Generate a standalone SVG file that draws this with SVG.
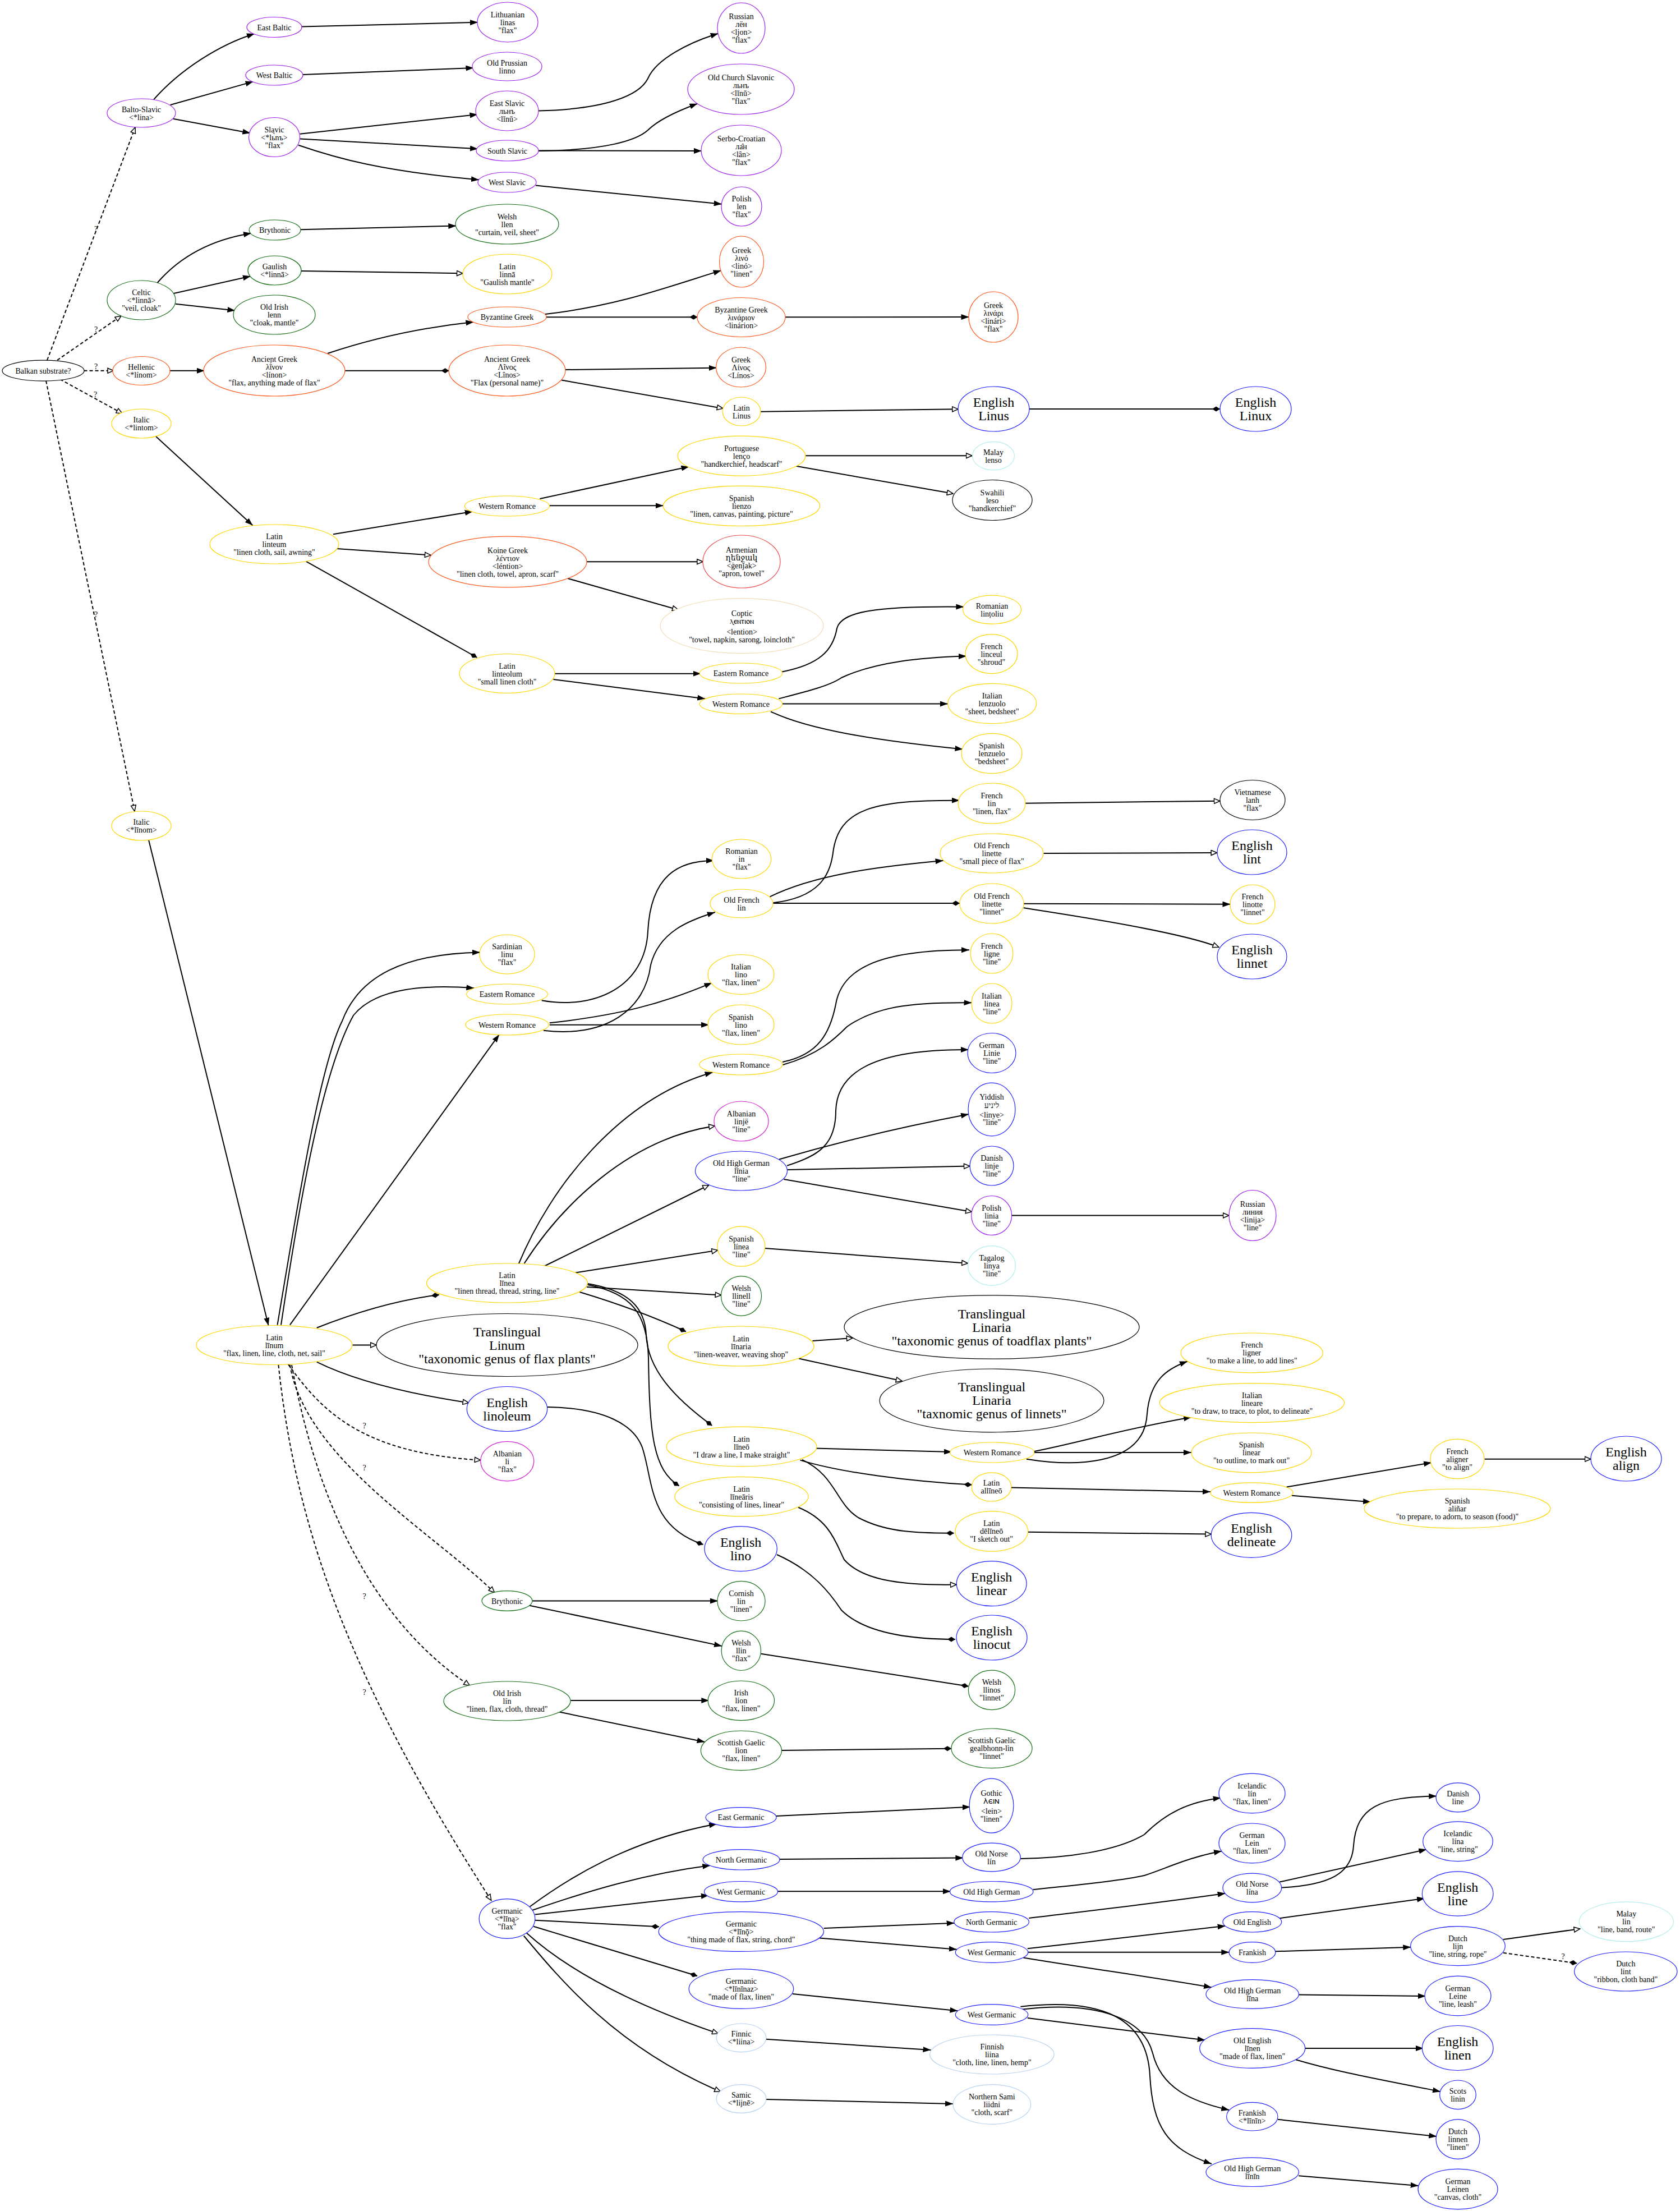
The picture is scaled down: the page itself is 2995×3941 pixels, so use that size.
<svg xmlns="http://www.w3.org/2000/svg" width="2995" height="3941" viewBox="0 0 2995 3941">
<style>
text{font-family:"Liberation Serif","DejaVu Serif","DejaVu Sans","Noto Sans",serif;font-size:14px;text-anchor:middle;fill:#000}
.B{font-size:24px}
ellipse{fill:#fff;stroke-width:1.2}
.p{stroke:#a020f0}.m{stroke:#d21fd2}.g{stroke:#167016}.o{stroke:#ff5a1e}.r{stroke:#ee4a4a}.w{stroke:#f2dcb5}.y{stroke:#ffd700}.b{stroke:#1f1fff}.c{stroke:#b4eeee}.l{stroke:#b8d3f0}.k{stroke:#000}
#edges path{fill:none;stroke:#000;stroke-width:2}
.A{marker-end:url(#a)}.H{marker-end:url(#h)}.D{marker-end:url(#d)}.S{stroke-dasharray:6 4}
</style>
<defs>
<marker id="a" viewBox="0 0 14 10" markerWidth="14" markerHeight="10" refX="14" refY="5" orient="auto" markerUnits="userSpaceOnUse"><path d="M0,0L14,5L0,10z" fill="#000"/></marker>
<marker id="h" viewBox="-1 -1 13 11" markerWidth="13" markerHeight="11" refX="10.5" refY="4.5" orient="auto" markerUnits="userSpaceOnUse"><path d="M0,0L10.5,4.5L0,9z" fill="#fff" stroke="#000" stroke-width="1.5"/></marker>
<marker id="d" viewBox="0 0 14 10" markerWidth="14" markerHeight="10" refX="14" refY="5" orient="auto" markerUnits="userSpaceOnUse"><path d="M0,5L7,0.5L14,5L7,9.5z" fill="#000"/></marker>
</defs>
<rect width="2995" height="3941" fill="#fff"/>
<g id="edges">
<path class="S H" d="M84,642 L241,227"/>
<path class="S H" d="M102,642 L216,563"/>
<path class="S H" d="M149.5,660.7 L202.5,660.7"/>
<path class="S H" d="M107,676 L218,737"/>
<path class="S H" d="M82,678.6 L240,1446"/>
<path class="A" d="M273,178.6 C320,125 390,80 454,60"/>
<path class="A" d="M303.6,187 L451.5,145.4"/>
<path class="A" d="M308.7,211.7 L446.4,237.2"/>
<path class="A" d="M538,47.5 L852,39.8"/>
<path class="A" d="M540,133 L844.4,121"/>
<path class="A" d="M534.7,238.8 L851.5,204"/>
<path class="A" d="M535,247.4 L852,265.3"/>
<path class="A" d="M532,258.7 C600,282 680,305 854,320.4"/>
<path class="A" d="M960,197.4 C1080,195 1140,170 1155,140 C1170,105 1230,75 1280.6,59.7"/>
<path class="A" d="M960,268.9 C1080,268 1135,250 1155,232 C1175,212 1210,197 1243.4,184.7"/>
<path class="A" d="M960,268.5 L1251,268.9"/>
<path class="A" d="M955,330.6 L1286.7,363.8"/>
<path class="A" d="M280.6,504 C310,470 360,430 448,415.8"/>
<path class="A" d="M309.7,523 L447,492.3"/>
<path class="A" d="M312.8,541.8 L419.4,553.6"/>
<path class="A" d="M535.7,409.2 L813.3,402.6"/>
<path class="H" d="M537,483 L825,487.2"/>
<path class="A" d="M303,660.7 L364.8,660.7"/>
<path class="A" d="M584,630 C650,608 740,585 844.4,574"/>
<path class="D" d="M615,660.7 L800.5,660.7"/>
<path class="A" d="M972,560 C1100,545 1180,515 1285.7,482"/>
<path class="D" d="M974,565.3 L1243.4,565.3"/>
<path class="A" d="M1400,565.3 L1727.5,565"/>
<path class="A" d="M1008,659 L1277.6,655.6"/>
<path class="H" d="M1001,677.6 L1289,728"/>
<path class="H" d="M1355.6,733.7 L1708.3,729.3"/>
<path class="D" d="M1835,729 L2175,729"/>
<path class="A" d="M278,778 L450.5,936.6"/>
<path class="A" d="M594,952.3 L842.8,911.7"/>
<path class="A" d="M962.4,888.9 L1228.5,831.7"/>
<path class="A" d="M979.7,901.3 L1182.5,901.3"/>
<path class="H" d="M1436,812.2 L1733,812.2"/>
<path class="H" d="M1419,830.8 L1699,879.8"/>
<path class="H" d="M600.7,978 L768,989.6"/>
<path class="H" d="M1045.7,1001.2 L1253.3,1001.2"/>
<path class="H" d="M1012,1031 L1209.3,1087"/>
<path class="D" d="M546,1000.8 L850.5,1172"/>
<path class="A" d="M989,1200.7 L1249.5,1200.7"/>
<path class="A" d="M986.4,1211 L1257.2,1245.4"/>
<path class="A" d="M1393,1197.8 C1460,1185 1485,1160 1492,1120 C1500,1090 1560,1080 1718.4,1081.7"/>
<path class="A" d="M1388.3,1245.4 C1440,1232 1480,1222 1500,1208 C1560,1180 1640,1172 1723,1169.6"/>
<path class="A" d="M1395,1254.5 L1689.7,1254.5"/>
<path class="A" d="M1374,1268.3 C1440,1300 1560,1320 1716.5,1335.4"/>
<path class="A" d="M265,1497 L478.6,2362.8"/>
<path class="A" d="M494.5,2361.7 C530,2150 570,1900 610,1820 C640,1740 720,1700 856,1697.4"/>
<path class="A" d="M501,2361.7 C540,2100 580,1900 630,1810 C670,1760 760,1755 845.3,1761.2"/>
<path class="A" d="M516.8,2361.7 L890,1843.9"/>
<path class="D" d="M564.7,2366.8 C620,2345 700,2318 782.8,2308"/>
<path class="H" d="M628.4,2397.5 L671.2,2397.5"/>
<path class="H" d="M564.7,2427.6 C620,2455 700,2480 835.7,2500.5"/>
<path class="S H" d="M513.6,2431.6 C570,2510 640,2590 856.8,2602.6"/>
<path class="S H" d="M516.8,2432.7 C545,2600 770,2730 881.6,2838.8"/>
<path class="S H" d="M520,2433 C560,2650 650,2880 837.6,3004.6"/>
<path class="S H" d="M496.4,2433 C530,2750 640,3020 875.8,3387.4"/>
<path class="A" d="M965.7,1783.3 C1060,1800 1150,1760 1155,1660 C1160,1560 1210,1534 1272.7,1534"/>
<path class="A" d="M969,1836.7 C1080,1850 1150,1800 1160,1720 C1175,1660 1230,1640 1274.8,1626"/>
<path class="A" d="M979.8,1823.3 C1100,1810 1180,1790 1269.4,1751.7"/>
<path class="A" d="M979.8,1826.7 L1264,1826.7"/>
<path class="A" d="M1378,1609.3 C1460,1600 1480,1560 1485,1520 C1495,1440 1560,1426 1710.8,1426.7"/>
<path class="A" d="M1372.5,1598.3 C1450,1560 1560,1545 1681.6,1534"/>
<path class="D" d="M1378,1610 L1710.8,1610"/>
<path class="H" d="M1828,1431.7 L2175,1427.7"/>
<path class="H" d="M1860.5,1521 L2169.6,1520"/>
<path class="A" d="M1824.7,1610.7 L2193.5,1611.7"/>
<path class="H" d="M1824.7,1618.3 C1900,1630 2100,1660 2172.8,1688.3"/>
<path class="A" d="M925,2252 C980,2120 1100,1960 1270.7,1911.2"/>
<path class="H" d="M934.6,2252 C1000,2150 1120,2030 1274.4,2007"/>
<path class="H" d="M971,2256.5 L1263.5,2112.5"/>
<path class="H" d="M1026,2268.4 L1279.5,2228.6"/>
<path class="H" d="M1046,2294 L1285.8,2308.5"/>
<path class="D" d="M1033.4,2303 C1090,2320 1150,2340 1222.8,2373.5"/>
<path class="D" d="M1047.5,2288 C1120,2300 1150,2330 1152,2380 C1155,2440 1200,2490 1269.4,2541"/>
<path class="D" d="M1047.5,2290 C1125,2305 1154,2340 1156,2420 C1158,2560 1165,2620 1210.7,2648.5"/>
<path class="H" d="M1448.5,2390 L1520,2385"/>
<path class="H" d="M1424,2421.4 L1608,2461.6"/>
<path class="A" d="M1453.5,2581.5 L1697,2588"/>
<path class="D" d="M1426.5,2602.6 C1500,2625 1620,2640 1732.4,2646.6"/>
<path class="D" d="M1430,2601.8 C1490,2630 1490,2680 1530,2705 C1580,2732 1640,2733 1700.6,2732.7"/>
<path class="A" d="M1830,2600.7 C1900,2612 2040,2620 2045,2520 C2050,2460 2080,2440 2117,2426.5"/>
<path class="A" d="M1844,2587 C1930,2570 1990,2550 2124,2526"/>
<path class="A" d="M1844,2589 L2124,2589"/>
<path class="A" d="M1803,2651.6 L2158,2659"/>
<path class="A" d="M2293.6,2650.4 L2552,2607"/>
<path class="A" d="M2303,2665.7 L2444,2677.2"/>
<path class="H" d="M2646.5,2600.7 L2836,2600.7"/>
<path class="H" d="M1832,2730.8 L2159.5,2734.6"/>
<path class="H" d="M1423,2686.8 C1480,2710 1490,2750 1505,2780 C1540,2820 1620,2826 1705,2824.6"/>
<path class="D" d="M1385,2771 C1450,2800 1480,2840 1500,2870 C1540,2910 1620,2922 1703,2922"/>
<path class="D" d="M976,2508 C1080,2510 1130,2540 1145,2580 C1165,2640 1155,2720 1253.5,2753"/>
<path class="A" d="M949.2,2853.6 L1280,2853.6"/>
<path class="A" d="M944,2861.7 L1287,2934"/>
<path class="D" d="M1356.6,2947.7 L1726.5,3005.7"/>
<path class="A" d="M1017.5,3031 L1264.3,3031"/>
<path class="A" d="M997,3051.5 L1256.6,3105"/>
<path class="D" d="M1393.4,3120 L1696,3116.7"/>
<path class="A" d="M944.6,3398.5 C1010,3350 1120,3280 1278,3251"/>
<path class="A" d="M948.8,3405 C1050,3370 1150,3340 1266.3,3325"/>
<path class="A" d="M953.7,3412.6 L1263.8,3378.3"/>
<path class="D" d="M953.7,3422.7 L1175,3434.3"/>
<path class="D" d="M951.2,3433.8 L1243,3522"/>
<path class="H" d="M938.8,3445.5 C1010,3510 1120,3570 1280.4,3624.7"/>
<path class="H" d="M933.8,3450.5 C1000,3530 1100,3650 1284.6,3728.3"/>
<path class="A" d="M1384,3237 L1729.8,3220.7"/>
<path class="A" d="M1390,3314 L1717.4,3311.6"/>
<path class="A" d="M1386.6,3371.2 L1695,3371.2"/>
<path class="A" d="M1468.7,3436.9 L1701.6,3427.8"/>
<path class="A" d="M1461,3454.5 L1705.8,3474.7"/>
<path class="A" d="M1413,3554 L1707.5,3584.3"/>
<path class="A" d="M1365.8,3634.8 L1659.4,3654"/>
<path class="A" d="M1365.8,3742 L1699,3750"/>
<path class="A" d="M1819.4,3313 C1900,3312 1990,3300 2040,3270 C2080,3230 2120,3212 2176.7,3204.5"/>
<path class="A" d="M1841.8,3368 C1920,3360 2000,3352 2040,3343 C2080,3330 2120,3310 2178,3299.5"/>
<path class="A" d="M1834.3,3419 C1950,3405 2080,3390 2184.7,3374.7"/>
<path class="A" d="M1831.8,3473.2 C1950,3460 2080,3445 2184.7,3432.8"/>
<path class="A" d="M1832.7,3479.8 L2191.3,3479.8"/>
<path class="A" d="M1824.4,3489.4 C1950,3510 2060,3525 2160,3542.4"/>
<path class="A" d="M1831.8,3597 L2148.7,3636.4"/>
<path class="A" d="M1821,3581.8 C1960,3565 2040,3600 2055,3660 C2070,3720 2120,3745 2191.3,3761"/>
<path class="A" d="M1819.4,3576.8 C1970,3560 2045,3600 2050,3700 C2055,3790 2080,3830 2160,3857"/>
<path class="A" d="M2284.7,3364.6 C2370,3360 2410,3340 2413,3290 C2418,3220 2460,3203 2561.3,3201.5"/>
<path class="A" d="M2281.3,3354.5 L2543.3,3296.5"/>
<path class="A" d="M2281.3,3419.2 L2540,3383.8"/>
<path class="A" d="M2274,3478.3 L2515.3,3470.7"/>
<path class="A" d="M2315.3,3555.6 L2542,3558"/>
<path class="A" d="M2326.7,3651 L2538,3651"/>
<path class="A" d="M2310,3671.2 C2390,3695 2480,3710 2568,3728.3"/>
<path class="A" d="M2278,3777.8 L2561.3,3808"/>
<path class="A" d="M2315.3,3878.3 L2528.7,3896"/>
<path class="H" d="M2680,3457 L2816.7,3438"/>
<path class="S D" d="M2680,3480.8 L2811.3,3499.5"/>
<path class="A" d="M1403,2077.7 C1460,2060 1490,2040 1490,1980 C1492,1910 1560,1870 1727,1871"/>
<path class="A" d="M1389,2066.5 C1480,2040 1600,2010 1727,1986"/>
<path class="H" d="M1403.8,2085 L1729,2078.6"/>
<path class="H" d="M1397.4,2102 L1732.3,2160"/>
<path class="H" d="M1803.7,2166.5 L2191,2166.5"/>
<path class="H" d="M1363.6,2225 L1725.3,2251.8"/>
<path class="A" d="M1395,1893 C1460,1880 1480,1840 1490,1790 C1500,1730 1560,1693 1728,1693.3"/>
<path class="A" d="M1395.5,1898 C1460,1880 1490,1850 1510,1830 C1560,1795 1620,1786 1732.5,1787.3"/>
<text x="171" y="413">?</text>
<text x="171" y="592">?</text>
<text x="171" y="658">?</text>
<text x="170" y="708">?</text>
<text x="171" y="1100">?</text>
<text x="649.5" y="2546">?</text>
<text x="649.5" y="2621">?</text>
<text x="649.5" y="2850">?</text>
<text x="649.5" y="3021">?</text>
<text x="2786.7" y="3492">?</text>
</g>
<g id="n_balkan"><ellipse class="k" cx="77" cy="660.7" rx="73" ry="18.5"/><text x="77" y="665.7">Balkan substrate?</text></g>
<g id="n_baltoslavic"><ellipse class="p" cx="252" cy="201.5" rx="61" ry="25.5"/><text x="252" y="199.5">Balto-Slavic<tspan x="252" dy="14">&lt;*lina&gt;</tspan></text></g>
<g id="n_eastbaltic"><ellipse class="p" cx="489" cy="48.5" rx="49" ry="18"/><text x="489" y="53.5">East Baltic</text></g>
<g id="n_westbaltic"><ellipse class="p" cx="489" cy="134" rx="51" ry="18"/><text x="489" y="139">West Baltic</text></g>
<g id="n_slavic"><ellipse class="p" cx="489" cy="244.5" rx="45.5" ry="35"/><text x="489" y="235.5">Slavic<tspan x="489" dy="14">&lt;*lь̀nъ&gt;</tspan><tspan x="489" dy="14">"flax"</tspan></text></g>
<g id="n_lithuanian"><ellipse class="p" cx="905" cy="39.5" rx="54" ry="35.5"/><text x="905" y="30.5">Lithuanian<tspan x="905" dy="14">lìnas</tspan><tspan x="905" dy="14">"flax"</tspan></text></g>
<g id="n_oldprussian"><ellipse class="p" cx="904" cy="118.5" rx="62" ry="25.5"/><text x="904" y="116.5">Old Prussian<tspan x="904" dy="14">linno</tspan></text></g>
<g id="n_eastslavic"><ellipse class="p" cx="904" cy="197.5" rx="56" ry="35.5"/><text x="904" y="188.5">East Slavic<tspan x="904" dy="14">льнъ</tspan><tspan x="904" dy="14">&lt;lĭnŭ&gt;</tspan></text></g>
<g id="n_southslavic"><ellipse class="p" cx="904.5" cy="268.5" rx="55.5" ry="18.5"/><text x="904.5" y="273.5">South Slavic</text></g>
<g id="n_westslavic"><ellipse class="p" cx="904" cy="325" rx="52" ry="18"/><text x="904" y="330">West Slavic</text></g>
<g id="n_russian1"><ellipse class="p" cx="1321.5" cy="50" rx="42.5" ry="45"/><text x="1321.5" y="34">Russian<tspan x="1321.5" dy="14">лён</tspan><tspan x="1321.5" dy="14">&lt;ljon&gt;</tspan><tspan x="1321.5" dy="14">"flax"</tspan></text></g>
<g id="n_ocs"><ellipse class="p" cx="1321" cy="159" rx="95" ry="45"/><text x="1321" y="143">Old Church Slavonic<tspan x="1321" dy="14">льнъ</tspan><tspan x="1321" dy="14">&lt;lĭnŭ&gt;</tspan><tspan x="1321" dy="14">"flax"</tspan></text></g>
<g id="n_serbocroatian"><ellipse class="p" cx="1321.5" cy="268" rx="71.5" ry="45"/><text x="1321.5" y="252">Serbo-Croatian<tspan x="1321.5" dy="14">ла̑н</tspan><tspan x="1321.5" dy="14">&lt;lȃn&gt;</tspan><tspan x="1321.5" dy="14">"flax"</tspan></text></g>
<g id="n_polish1"><ellipse class="p" cx="1322" cy="368" rx="36" ry="35"/><text x="1322" y="359">Polish<tspan x="1322" dy="14">len</tspan><tspan x="1322" dy="14">"flax"</tspan></text></g>
<g id="n_brythonic1"><ellipse class="g" cx="490" cy="410" rx="46" ry="18"/><text x="490" y="415">Brythonic</text></g>
<g id="n_gaulish"><ellipse class="g" cx="489.5" cy="482" rx="47.5" ry="26"/><text x="489.5" y="480">Gaulish<tspan x="489.5" dy="14">&lt;*linnā&gt;</tspan></text></g>
<g id="n_oldirish1"><ellipse class="g" cx="489" cy="561" rx="73" ry="35"/><text x="489" y="552">Old Irish<tspan x="489" dy="14">lenn</tspan><tspan x="489" dy="14">"cloak, mantle"</tspan></text></g>
<g id="n_celtic"><ellipse class="g" cx="252" cy="535" rx="61" ry="35"/><text x="252" y="526">Celtic<tspan x="252" dy="14">&lt;*linnā&gt;</tspan><tspan x="252" dy="14">"veil, cloak"</tspan></text></g>
<g id="n_welsh_llen"><ellipse class="g" cx="904" cy="399.5" rx="92" ry="35.5"/><text x="904" y="390.5">Welsh<tspan x="904" dy="14">llen</tspan><tspan x="904" dy="14">"curtain, veil, sheet"</tspan></text></g>
<g id="n_latin_linna"><ellipse class="y" cx="904.5" cy="488.5" rx="79.5" ry="35.5"/><text x="904.5" y="479.5">Latin<tspan x="904.5" dy="14">linnā</tspan><tspan x="904.5" dy="14">"Gaulish mantle"</tspan></text></g>
<g id="n_hellenic"><ellipse class="o" cx="252" cy="661" rx="51" ry="25.5"/><text x="252" y="659">Hellenic<tspan x="252" dy="14">&lt;*línom&gt;</tspan></text></g>
<g id="n_ancientgreek1"><ellipse class="o" cx="489" cy="660.5" rx="126" ry="45.5"/><text x="489" y="644.5">Ancient Greek<tspan x="489" dy="14">λῐ́νον</tspan><tspan x="489" dy="14">&lt;línon&gt;</tspan><tspan x="489" dy="14">"flax, anything made of flax"</tspan></text></g>
<g id="n_byzantine1"><ellipse class="o" cx="904" cy="565" rx="70" ry="18"/><text x="904" y="570">Byzantine Greek</text></g>
<g id="n_ancientgreek2"><ellipse class="o" cx="904" cy="660.5" rx="104" ry="45.5"/><text x="904" y="644.5">Ancient Greek<tspan x="904" dy="14">Λῖνος</tspan><tspan x="904" dy="14">&lt;Lînos&gt;</tspan><tspan x="904" dy="14">"Flax (personal name)"</tspan></text></g>
<g id="n_greek_lino"><ellipse class="o" cx="1322" cy="466.5" rx="39.5" ry="45.5"/><text x="1322" y="450.5">Greek<tspan x="1322" dy="14">λινό</tspan><tspan x="1322" dy="14">&lt;linó&gt;</tspan><tspan x="1322" dy="14">"linen"</tspan></text></g>
<g id="n_byzantine2"><ellipse class="o" cx="1321.5" cy="565.5" rx="78.5" ry="35"/><text x="1321.5" y="556.5">Byzantine Greek<tspan x="1321.5" dy="14">λινάριον</tspan><tspan x="1321.5" dy="14">&lt;linárion&gt;</tspan></text></g>
<g id="n_greek_linari"><ellipse class="o" cx="1771" cy="565" rx="44" ry="45"/><text x="1771" y="549">Greek<tspan x="1771" dy="14">λινάρι</tspan><tspan x="1771" dy="14">&lt;linári&gt;</tspan><tspan x="1771" dy="14">"flax"</tspan></text></g>
<g id="n_greek_linos"><ellipse class="o" cx="1321" cy="654.5" rx="44.5" ry="35.5"/><text x="1321" y="645.5">Greek<tspan x="1321" dy="14">Λίνος</tspan><tspan x="1321" dy="14">&lt;Línos&gt;</tspan></text></g>
<g id="n_latin_linus"><ellipse class="y" cx="1322" cy="733.5" rx="34" ry="25.5"/><text x="1322" y="731.5">Latin<tspan x="1322" dy="14">Linus</tspan></text></g>
<g id="n_english_linus"><ellipse class="b" cx="1771.5" cy="729" rx="63.5" ry="40"/><text class="B" x="1771.5" y="725">English<tspan x="1771.5" dy="24">Linus</tspan></text></g>
<g id="n_english_linux"><ellipse class="b" cx="2238.5" cy="729" rx="63.5" ry="40"/><text class="B" x="2238.5" y="725">English<tspan x="2238.5" dy="24">Linux</tspan></text></g>
<g id="n_italic1"><ellipse class="y" cx="252" cy="755" rx="53" ry="26"/><text x="252" y="753">Italic<tspan x="252" dy="14">&lt;*lintom&gt;</tspan></text></g>
<g id="n_latin_linteum"><ellipse class="y" cx="489" cy="970" rx="115" ry="35"/><text x="489" y="961">Latin<tspan x="489" dy="14">linteum</tspan><tspan x="489" dy="14">"linen cloth, sail, awning"</tspan></text></g>
<g id="n_wr1"><ellipse class="y" cx="904" cy="902" rx="75.6" ry="18"/><text x="904" y="907">Western Romance</text></g>
<g id="n_portuguese"><ellipse class="y" cx="1322" cy="812.6" rx="114" ry="35.5"/><text x="1322" y="803.6">Portuguese<tspan x="1322" dy="14">lenço</tspan><tspan x="1322" dy="14">"handkerchief, headscarf"</tspan></text></g>
<g id="n_malay1"><ellipse class="c" cx="1771" cy="812.6" rx="37.5" ry="25.3"/><text x="1771" y="810.6">Malay<tspan x="1771" dy="14">lenso</tspan></text></g>
<g id="n_swahili"><ellipse class="k" cx="1769" cy="891.5" rx="71" ry="36"/><text x="1769" y="882.5">Swahili<tspan x="1769" dy="14">leso</tspan><tspan x="1769" dy="14">"handkerchief"</tspan></text></g>
<g id="n_spanish_lienzo"><ellipse class="y" cx="1322" cy="901.8" rx="139.7" ry="35.7"/><text x="1322" y="892.8">Spanish<tspan x="1322" dy="14">lienzo</tspan><tspan x="1322" dy="14">"linen, canvas, painting, picture"</tspan></text></g>
<g id="n_koine"><ellipse class="o" cx="905" cy="1001.5" rx="141" ry="45.4"/><text x="905" y="985.5">Koine Greek<tspan x="905" dy="14">λέντιον</tspan><tspan x="905" dy="14">&lt;léntion&gt;</tspan><tspan x="905" dy="14">"linen cloth, towel, apron, scarf"</tspan></text></g>
<g id="n_armenian"><ellipse class="r" cx="1322" cy="1001" rx="69" ry="47"/><text x="1322" y="985">Armenian<tspan x="1322" dy="14">ղենջակ</tspan><tspan x="1322" dy="14">&lt;ġenǰak&gt;</tspan><tspan x="1322" dy="14">"apron, towel"</tspan></text></g>
<g id="n_coptic"><ellipse class="w" cx="1322.5" cy="1115.6" rx="145.5" ry="49"/><text x="1322.5" y="1097.5">Coptic<tspan x="1322.5" dy="14">ⲗⲉⲛⲧⲓⲟⲛ</tspan><tspan x="1322.5" dy="19">&lt;lention&gt;</tspan><tspan x="1322.5" dy="14">"towel, napkin, sarong, loincloth"</tspan></text></g>
<g id="n_latin_linteolum"><ellipse class="y" cx="904" cy="1200.5" rx="85" ry="35"/><text x="904" y="1191.5">Latin<tspan x="904" dy="14">linteolum</tspan><tspan x="904" dy="14">"small linen cloth"</tspan></text></g>
<g id="n_er1"><ellipse class="y" cx="1321" cy="1200" rx="73.7" ry="18"/><text x="1321" y="1205">Eastern Romance</text></g>
<g id="n_wr2"><ellipse class="y" cx="1321" cy="1254.7" rx="73.7" ry="17.7"/><text x="1321" y="1259.7">Western Romance</text></g>
<g id="n_romanian1"><ellipse class="y" cx="1768.5" cy="1086.6" rx="52" ry="25.5"/><text x="1768.5" y="1084.6">Romanian<tspan x="1768.5" dy="14">lințoliu</tspan></text></g>
<g id="n_french_linceul"><ellipse class="y" cx="1767.5" cy="1165.6" rx="46.5" ry="35"/><text x="1767.5" y="1156.6">French<tspan x="1767.5" dy="14">linceul</tspan><tspan x="1767.5" dy="14">"shroud"</tspan></text></g>
<g id="n_italian_lenzuolo"><ellipse class="y" cx="1768.7" cy="1254" rx="79" ry="35.6"/><text x="1768.7" y="1245">Italian<tspan x="1768.7" dy="14">lenzuolo</tspan><tspan x="1768.7" dy="14">"sheet, bedsheet"</tspan></text></g>
<g id="n_spanish_lenzuelo"><ellipse class="y" cx="1768" cy="1343" rx="54" ry="35.6"/><text x="1768" y="1334">Spanish<tspan x="1768" dy="14">lenzuelo</tspan><tspan x="1768" dy="14">"bedsheet"</tspan></text></g>
<g id="n_italic2"><ellipse class="y" cx="252" cy="1472" rx="53" ry="26"/><text x="252" y="1470">Italic<tspan x="252" dy="14">&lt;*līnom&gt;</tspan></text></g>
<g id="n_latin_linum"><ellipse class="y" cx="489" cy="2397.5" rx="139" ry="35"/><text x="489" y="2388.5">Latin<tspan x="489" dy="14">līnum</tspan><tspan x="489" dy="14">"flax, linen, line, cloth, net, sail"</tspan></text></g>
<g id="n_trans_linum"><ellipse class="k" cx="904" cy="2397.5" rx="233" ry="56"/><text class="B" x="904" y="2381.5">Translingual<tspan x="904" dy="24">Linum</tspan><tspan x="904" dy="24">"taxonomic genus of flax plants"</tspan></text></g>
<g id="n_english_linoleum"><ellipse class="b" cx="904" cy="2511.5" rx="71.7" ry="40"/><text class="B" x="904" y="2507.5">English<tspan x="904" dy="24">linoleum</tspan></text></g>
<g id="n_albanian_li"><ellipse class="m" cx="904.3" cy="2604.6" rx="47.5" ry="35.2"/><text x="904.3" y="2595.6">Albanian<tspan x="904.3" dy="14">li</tspan><tspan x="904.3" dy="14">"flax"</tspan></text></g>
<g id="n_brythonic2"><ellipse class="g" cx="904" cy="2853.5" rx="45" ry="17.9"/><text x="904" y="2858.5">Brythonic</text></g>
<g id="n_oldirish2"><ellipse class="g" cx="904" cy="3032" rx="113" ry="35"/><text x="904" y="3023">Old Irish<tspan x="904" dy="14">lín</tspan><tspan x="904" dy="14">"linen, flax, cloth, thread"</tspan></text></g>
<g id="n_germanic1"><ellipse class="b" cx="904" cy="3420" rx="49.8" ry="35.4"/><text x="904" y="3411">Germanic<tspan x="904" dy="14">&lt;*līną&gt;</tspan><tspan x="904" dy="14">"flax"</tspan></text></g>
<g id="n_sardinian"><ellipse class="y" cx="904" cy="1701" rx="49" ry="35"/><text x="904" y="1692">Sardinian<tspan x="904" dy="14">linu</tspan><tspan x="904" dy="14">"flax"</tspan></text></g>
<g id="n_er2"><ellipse class="y" cx="904" cy="1772" rx="72.4" ry="18"/><text x="904" y="1777">Eastern Romance</text></g>
<g id="n_wr3"><ellipse class="y" cx="904" cy="1826.5" rx="74" ry="18.5"/><text x="904" y="1831.5">Western Romance</text></g>
<g id="n_romanian_in"><ellipse class="y" cx="1322" cy="1531" rx="52.6" ry="35"/><text x="1322" y="1522">Romanian<tspan x="1322" dy="14">in</tspan><tspan x="1322" dy="14">"flax"</tspan></text></g>
<g id="n_oldfrench_lin"><ellipse class="y" cx="1322" cy="1610.5" rx="56" ry="25.5"/><text x="1322" y="1608.5">Old French<tspan x="1322" dy="14">lin</tspan></text></g>
<g id="n_italian_lino"><ellipse class="y" cx="1321" cy="1737" rx="59" ry="35.5"/><text x="1321" y="1728">Italian<tspan x="1321" dy="14">lino</tspan><tspan x="1321" dy="14">"flax, linen"</tspan></text></g>
<g id="n_spanish_lino"><ellipse class="y" cx="1321" cy="1826.5" rx="59" ry="35.5"/><text x="1321" y="1817.5">Spanish<tspan x="1321" dy="14">lino</tspan><tspan x="1321" dy="14">"flax, linen"</tspan></text></g>
<g id="n_french_lin"><ellipse class="y" cx="1768" cy="1432" rx="60" ry="36"/><text x="1768" y="1423">French<tspan x="1768" dy="14">lin</tspan><tspan x="1768" dy="14">"linen, flax"</tspan></text></g>
<g id="n_oldfrench_linette1"><ellipse class="y" cx="1768" cy="1521" rx="92" ry="35"/><text x="1768" y="1512">Old French<tspan x="1768" dy="14">linette</tspan><tspan x="1768" dy="14">"small piece of flax"</tspan></text></g>
<g id="n_oldfrench_linette2"><ellipse class="y" cx="1768" cy="1610.5" rx="57" ry="35.5"/><text x="1768" y="1601.5">Old French<tspan x="1768" dy="14">linette</tspan><tspan x="1768" dy="14">"linnet"</tspan></text></g>
<g id="n_vietnamese"><ellipse class="k" cx="2233" cy="1426" rx="58" ry="35.5"/><text x="2233" y="1417">Vietnamese<tspan x="2233" dy="14">lanh</tspan><tspan x="2233" dy="14">"flax"</tspan></text></g>
<g id="n_english_lint"><ellipse class="b" cx="2232" cy="1519" rx="62" ry="40"/><text class="B" x="2232" y="1515">English<tspan x="2232" dy="24">lint</tspan></text></g>
<g id="n_french_linotte"><ellipse class="y" cx="2233" cy="1612" rx="40" ry="35"/><text x="2233" y="1603">French<tspan x="2233" dy="14">linotte</tspan><tspan x="2233" dy="14">"linnet"</tspan></text></g>
<g id="n_english_linnet"><ellipse class="b" cx="2232" cy="1705" rx="62" ry="40"/><text class="B" x="2232" y="1701">English<tspan x="2232" dy="24">linnet</tspan></text></g>
<g id="n_latin_linea"><ellipse class="y" cx="904" cy="2287" rx="143.5" ry="35"/><text x="904" y="2278">Latin<tspan x="904" dy="14">līnea</tspan><tspan x="904" dy="14">"linen thread, thread, string, line"</tspan></text></g>
<g id="n_wr4"><ellipse class="y" cx="1321" cy="1897.5" rx="74" ry="18.5"/><text x="1321" y="1902.5">Western Romance</text></g>
<g id="n_french_ligne"><ellipse class="y" cx="1768" cy="1699.5" rx="38" ry="35.5"/><text x="1768" y="1690.5">French<tspan x="1768" dy="14">ligne</tspan><tspan x="1768" dy="14">"line"</tspan></text></g>
<g id="n_italian_linea"><ellipse class="y" cx="1768" cy="1788.5" rx="36" ry="35.5"/><text x="1768" y="1779.5">Italian<tspan x="1768" dy="14">linea</tspan><tspan x="1768" dy="14">"line"</tspan></text></g>
<g id="n_albanian_linje"><ellipse class="m" cx="1321.5" cy="1998.5" rx="48.5" ry="35.5"/><text x="1321.5" y="1989.5">Albanian<tspan x="1321.5" dy="14">linjë</tspan><tspan x="1321.5" dy="14">"line"</tspan></text></g>
<g id="n_ohg_linia"><ellipse class="b" cx="1321.5" cy="2087" rx="82" ry="35"/><text x="1321.5" y="2078">Old High German<tspan x="1321.5" dy="14">līnia</tspan><tspan x="1321.5" dy="14">"line"</tspan></text></g>
<g id="n_german_linie"><ellipse class="b" cx="1768" cy="1877" rx="43" ry="35.5"/><text x="1768" y="1868">German<tspan x="1768" dy="14">Linie</tspan><tspan x="1768" dy="14">"line"</tspan></text></g>
<g id="n_yiddish"><ellipse class="b" cx="1768" cy="1977.5" rx="42" ry="47.3"/><text x="1768" y="1960.4">Yiddish<tspan x="1768" dy="14.2">ליניע</tspan><tspan x="1768" dy="17">&lt;linye&gt;</tspan><tspan x="1768" dy="13.8">"line"</tspan></text></g>
<g id="n_danish_linje"><ellipse class="b" cx="1768" cy="2078" rx="39" ry="35"/><text x="1768" y="2069">Danish<tspan x="1768" dy="14">linje</tspan><tspan x="1768" dy="14">"line"</tspan></text></g>
<g id="n_polish_linia"><ellipse class="p" cx="1767.7" cy="2166.5" rx="36" ry="35"/><text x="1767.7" y="2157.5">Polish<tspan x="1767.7" dy="14">linia</tspan><tspan x="1767.7" dy="14">"line"</tspan></text></g>
<g id="n_russian_liniya"><ellipse class="p" cx="2233" cy="2166.5" rx="42" ry="45"/><text x="2233" y="2150.5">Russian<tspan x="2233" dy="14">линия</tspan><tspan x="2233" dy="14">&lt;linija&gt;</tspan><tspan x="2233" dy="14">"line"</tspan></text></g>
<g id="n_spanish_linea"><ellipse class="y" cx="1321.5" cy="2221.5" rx="42.5" ry="35.7"/><text x="1321.5" y="2212.5">Spanish<tspan x="1321.5" dy="14">línea</tspan><tspan x="1321.5" dy="14">"line"</tspan></text></g>
<g id="n_tagalog"><ellipse class="c" cx="1768" cy="2256" rx="42.5" ry="35.3"/><text x="1768" y="2247">Tagalog<tspan x="1768" dy="14">linya</tspan><tspan x="1768" dy="14">"line"</tspan></text></g>
<g id="n_welsh_llinell"><ellipse class="g" cx="1321.5" cy="2310" rx="36" ry="35.3"/><text x="1321.5" y="2301">Welsh<tspan x="1321.5" dy="14">llinell</tspan><tspan x="1321.5" dy="14">"line"</tspan></text></g>
<g id="n_latin_linaria"><ellipse class="y" cx="1321" cy="2399.5" rx="130" ry="35.5"/><text x="1321" y="2390.5">Latin<tspan x="1321" dy="14">līnaria</tspan><tspan x="1321" dy="14">"linen-weaver, weaving shop"</tspan></text></g>
<g id="n_trans_linaria1"><ellipse class="k" cx="1768" cy="2365.5" rx="263" ry="56.7"/><text class="B" x="1768" y="2349.5">Translingual<tspan x="1768" dy="24">Linaria</tspan><tspan x="1768" dy="24">"taxonomic genus of toadflax plants"</tspan></text></g>
<g id="n_trans_linaria2"><ellipse class="k" cx="1768" cy="2496.4" rx="200" ry="56.4"/><text class="B" x="1768" y="2480.4">Translingual<tspan x="1768" dy="24">Linaria</tspan><tspan x="1768" dy="24">"taxnomic genus of linnets"</tspan></text></g>
<g id="n_latin_lineo"><ellipse class="y" cx="1322" cy="2578.5" rx="134" ry="35.4"/><text x="1322" y="2569.5">Latin<tspan x="1322" dy="14">līneō</tspan><tspan x="1322" dy="14">"I draw a line, I make straight"</tspan></text></g>
<g id="n_latin_linearis"><ellipse class="y" cx="1322" cy="2667.6" rx="119" ry="35.2"/><text x="1322" y="2658.6">Latin<tspan x="1322" dy="14">līneāris</tspan><tspan x="1322" dy="14">"consisting of lines, linear"</tspan></text></g>
<g id="n_english_lino"><ellipse class="b" cx="1320.6" cy="2760.6" rx="64.7" ry="40"/><text class="B" x="1320.6" y="2756.6">English<tspan x="1320.6" dy="24">lino</tspan></text></g>
<g id="n_wr5"><ellipse class="y" cx="1768.8" cy="2589" rx="75" ry="18"/><text x="1768.8" y="2594">Western Romance</text></g>
<g id="n_latin_allineo"><ellipse class="y" cx="1767.5" cy="2650.4" rx="35.3" ry="25.6"/><text x="1767.5" y="2648.4">Latin<tspan x="1767.5" dy="14">allīneō</tspan></text></g>
<g id="n_latin_delineo"><ellipse class="y" cx="1767.7" cy="2729.4" rx="64.7" ry="35.8"/><text x="1767.7" y="2720.4">Latin<tspan x="1767.7" dy="14">dēlīneō</tspan><tspan x="1767.7" dy="14">"I sketch out"</tspan></text></g>
<g id="n_english_linear"><ellipse class="b" cx="1767.7" cy="2822.7" rx="62.4" ry="40"/><text class="B" x="1767.7" y="2818.7">English<tspan x="1767.7" dy="24">linear</tspan></text></g>
<g id="n_english_linocut"><ellipse class="b" cx="1768" cy="2919" rx="63" ry="40"/><text class="B" x="1768" y="2915">English<tspan x="1768" dy="24">linocut</tspan></text></g>
<g id="n_french_ligner"><ellipse class="y" cx="2231.7" cy="2411.4" rx="126.5" ry="35.4"/><text x="2231.7" y="2402.4">French<tspan x="2231.7" dy="14">ligner</tspan><tspan x="2231.7" dy="14">"to make a line, to add lines"</tspan></text></g>
<g id="n_italian_lineare"><ellipse class="y" cx="2232" cy="2500.6" rx="164.7" ry="35"/><text x="2232" y="2491.6">Italian<tspan x="2232" dy="14">lineare</tspan><tspan x="2232" dy="14">"to draw, to trace, to plot, to delineate"</tspan></text></g>
<g id="n_spanish_linear"><ellipse class="y" cx="2231" cy="2589.4" rx="107" ry="35.4"/><text x="2231" y="2580.4">Spanish<tspan x="2231" dy="14">linear</tspan><tspan x="2231" dy="14">"to outline, to mark out"</tspan></text></g>
<g id="n_wr6"><ellipse class="y" cx="2231.5" cy="2660.6" rx="73.5" ry="17.8"/><text x="2231.5" y="2665.6">Western Romance</text></g>
<g id="n_english_delineate"><ellipse class="b" cx="2231" cy="2736.3" rx="71.8" ry="40"/><text class="B" x="2231" y="2732.3">English<tspan x="2231" dy="24">delineate</tspan></text></g>
<g id="n_french_aligner"><ellipse class="y" cx="2598" cy="2600.5" rx="48" ry="35.4"/><text x="2598" y="2591.5">French<tspan x="2598" dy="14">aligner</tspan><tspan x="2598" dy="14">"to align"</tspan></text></g>
<g id="n_spanish_alinar"><ellipse class="y" cx="2598" cy="2689" rx="166" ry="35"/><text x="2598" y="2680">Spanish<tspan x="2598" dy="14">aliñar</tspan><tspan x="2598" dy="14">"to prepare, to adorn, to season (food)"</tspan></text></g>
<g id="n_english_align"><ellipse class="b" cx="2899" cy="2600" rx="63" ry="40"/><text class="B" x="2899" y="2596">English<tspan x="2899" dy="24">align</tspan></text></g>
<g id="n_cornish"><ellipse class="g" cx="1321.5" cy="2853.7" rx="42.6" ry="35.3"/><text x="1321.5" y="2844.7">Cornish<tspan x="1321.5" dy="14">lin</tspan><tspan x="1321.5" dy="14">"linen"</tspan></text></g>
<g id="n_welsh_llin"><ellipse class="g" cx="1321.3" cy="2942.3" rx="35.2" ry="35.2"/><text x="1321.3" y="2933.3">Welsh<tspan x="1321.3" dy="14">llin</tspan><tspan x="1321.3" dy="14">"flax"</tspan></text></g>
<g id="n_welsh_llinos"><ellipse class="g" cx="1768" cy="3012.4" rx="41.6" ry="35.2"/><text x="1768" y="3003.4">Welsh<tspan x="1768" dy="14">llinos</tspan><tspan x="1768" dy="14">"linnet"</tspan></text></g>
<g id="n_irish"><ellipse class="g" cx="1321.3" cy="3031.3" rx="59.2" ry="35.3"/><text x="1321.3" y="3022.3">Irish<tspan x="1321.3" dy="14">líon</tspan><tspan x="1321.3" dy="14">"flax, linen"</tspan></text></g>
<g id="n_scottish1"><ellipse class="g" cx="1321.4" cy="3120.3" rx="72" ry="35.3"/><text x="1321.4" y="3111.3">Scottish Gaelic<tspan x="1321.4" dy="14">lìon</tspan><tspan x="1321.4" dy="14">"flax, linen"</tspan></text></g>
<g id="n_scottish2"><ellipse class="g" cx="1768" cy="3116.3" rx="72" ry="35.3"/><text x="1768" y="3107.3">Scottish Gaelic<tspan x="1768" dy="14">gealbhonn-lìn</tspan><tspan x="1768" dy="14">"linnet"</tspan></text></g>
<g id="n_eastgermanic"><ellipse class="b" cx="1321" cy="3239.4" rx="63" ry="17.7"/><text x="1321" y="3244.4">East Germanic</text></g>
<g id="n_northgermanic1"><ellipse class="b" cx="1321.5" cy="3314.8" rx="68.4" ry="18.2"/><text x="1321.5" y="3319.8">North Germanic</text></g>
<g id="n_westgermanic1"><ellipse class="b" cx="1321" cy="3371.7" rx="65.5" ry="18.2"/><text x="1321" y="3376.7">West Germanic</text></g>
<g id="n_germanic_lino"><ellipse class="b" cx="1321.3" cy="3443" rx="147.2" ry="35.4"/><text x="1321.3" y="3434">Germanic<tspan x="1321.3" dy="14">&lt;*līnǭ&gt;</tspan><tspan x="1321.3" dy="14">"thing made of flax, string, chord"</tspan></text></g>
<g id="n_germanic_lininaz"><ellipse class="b" cx="1321.4" cy="3545" rx="93.3" ry="35.4"/><text x="1321.4" y="3536">Germanic<tspan x="1321.4" dy="14">&lt;*līnīnaz&gt;</tspan><tspan x="1321.4" dy="14">"made of flax, linen"</tspan></text></g>
<g id="n_finnic"><ellipse class="l" cx="1321.5" cy="3632.3" rx="44.4" ry="25.3"/><text x="1321.5" y="3630.3">Finnic<tspan x="1321.5" dy="14">&lt;*liina&gt;</tspan></text></g>
<g id="n_samic"><ellipse class="l" cx="1321.5" cy="3741" rx="44.4" ry="25.3"/><text x="1321.5" y="3739">Samic<tspan x="1321.5" dy="14">&lt;*lijnē&gt;</tspan></text></g>
<g id="n_gothic"><ellipse class="b" cx="1767.5" cy="3218.6" rx="39.4" ry="48.5"/><text x="1767.5" y="3200.5">Gothic<tspan x="1767.5" dy="14.1">𐌻𐌴𐌹𐌽</tspan><tspan x="1767.5" dy="18.7">&lt;lein&gt;</tspan><tspan x="1767.5" dy="14.1">"linen"</tspan></text></g>
<g id="n_oldnorse_lin"><ellipse class="b" cx="1767.5" cy="3310.5" rx="51.8" ry="25.3"/><text x="1767.5" y="3308.5">Old Norse<tspan x="1767.5" dy="14">lín</tspan></text></g>
<g id="n_ohg2"><ellipse class="b" cx="1767.7" cy="3371.7" rx="74.2" ry="18.2"/><text x="1767.7" y="3376.7">Old High German</text></g>
<g id="n_northgermanic2"><ellipse class="b" cx="1767.6" cy="3425.8" rx="66.8" ry="18.2"/><text x="1767.6" y="3430.8">North Germanic</text></g>
<g id="n_westgermanic2"><ellipse class="b" cx="1768" cy="3480" rx="64.7" ry="18.4"/><text x="1768" y="3485">West Germanic</text></g>
<g id="n_westgermanic3"><ellipse class="b" cx="1768" cy="3591" rx="64.7" ry="18.4"/><text x="1768" y="3596">West Germanic</text></g>
<g id="n_finnish"><ellipse class="l" cx="1768.4" cy="3662" rx="110.7" ry="35"/><text x="1768.4" y="3653">Finnish<tspan x="1768.4" dy="14">liina</tspan><tspan x="1768.4" dy="14">"cloth, line, linen, hemp"</tspan></text></g>
<g id="n_northernsami"><ellipse class="l" cx="1768.3" cy="3751" rx="69.3" ry="35.4"/><text x="1768.3" y="3742">Northern Sami<tspan x="1768.3" dy="14">liidni</tspan><tspan x="1768.3" dy="14">"cloth, scarf"</tspan></text></g>
<g id="n_icelandic_lin"><ellipse class="b" cx="2232" cy="3196.5" rx="59" ry="35.4"/><text x="2232" y="3187.5">Icelandic<tspan x="2232" dy="14">lín</tspan><tspan x="2232" dy="14">"flax, linen"</tspan></text></g>
<g id="n_german_lein"><ellipse class="b" cx="2232" cy="3285.4" rx="59" ry="35.4"/><text x="2232" y="3276.4">German<tspan x="2232" dy="14">Lein</tspan><tspan x="2232" dy="14">"flax, linen"</tspan></text></g>
<g id="n_oldnorse_lina"><ellipse class="b" cx="2232.3" cy="3365" rx="52.3" ry="25.8"/><text x="2232.3" y="3363">Old Norse<tspan x="2232.3" dy="14">lína</tspan></text></g>
<g id="n_oldenglish1"><ellipse class="b" cx="2232.3" cy="3425.8" rx="52.3" ry="18.2"/><text x="2232.3" y="3430.8">Old English</text></g>
<g id="n_frankish1"><ellipse class="b" cx="2232.5" cy="3480" rx="41.4" ry="18.4"/><text x="2232.5" y="3485">Frankish</text></g>
<g id="n_ohg_lina"><ellipse class="b" cx="2232.7" cy="3554.5" rx="82.7" ry="25.8"/><text x="2232.7" y="3552.5">Old High German<tspan x="2232.7" dy="14">līna</tspan></text></g>
<g id="n_oldenglish_linen"><ellipse class="b" cx="2232.7" cy="3651" rx="94" ry="35.4"/><text x="2232.7" y="3642">Old English<tspan x="2232.7" dy="14">līnen</tspan><tspan x="2232.7" dy="14">"made of flax, linen"</tspan></text></g>
<g id="n_frankish_linin"><ellipse class="b" cx="2232.3" cy="3772.7" rx="45.7" ry="25.3"/><text x="2232.3" y="3770.7">Frankish<tspan x="2232.3" dy="14">&lt;*līnīn&gt;</tspan></text></g>
<g id="n_ohg_linin"><ellipse class="b" cx="2232.7" cy="3871.7" rx="82.7" ry="25.8"/><text x="2232.7" y="3869.7">Old High German<tspan x="2232.7" dy="14">līnīn</tspan></text></g>
<g id="n_danish_line"><ellipse class="b" cx="2599" cy="3203.8" rx="39" ry="26"/><text x="2599" y="3201.8">Danish<tspan x="2599" dy="14">line</tspan></text></g>
<g id="n_icelandic_lina"><ellipse class="b" cx="2599" cy="3282.3" rx="62.3" ry="35.4"/><text x="2599" y="3273.3">Icelandic<tspan x="2599" dy="14">lína</tspan><tspan x="2599" dy="14">"line, string"</tspan></text></g>
<g id="n_english_line"><ellipse class="b" cx="2598.7" cy="3375.5" rx="63.3" ry="39.6"/><text class="B" x="2598.7" y="3371.5">English<tspan x="2598.7" dy="24">line</tspan></text></g>
<g id="n_dutch_lijn"><ellipse class="b" cx="2599" cy="3468.7" rx="84.3" ry="35"/><text x="2599" y="3459.7">Dutch<tspan x="2599" dy="14">lijn</tspan><tspan x="2599" dy="14">"line, string, rope"</tspan></text></g>
<g id="n_german_leine"><ellipse class="b" cx="2599" cy="3557.5" rx="59" ry="35.4"/><text x="2599" y="3548.5">German<tspan x="2599" dy="14">Leine</tspan><tspan x="2599" dy="14">"line, leash"</tspan></text></g>
<g id="n_english_linen"><ellipse class="b" cx="2598.7" cy="3650.5" rx="63.3" ry="40"/><text class="B" x="2598.7" y="3646.5">English<tspan x="2598.7" dy="24">linen</tspan></text></g>
<g id="n_scots"><ellipse class="b" cx="2599" cy="3733.8" rx="32.3" ry="25.8"/><text x="2599" y="3731.8">Scots<tspan x="2599" dy="14">linin</tspan></text></g>
<g id="n_dutch_linnen"><ellipse class="b" cx="2599" cy="3813" rx="39" ry="35.4"/><text x="2599" y="3804">Dutch<tspan x="2599" dy="14">linnen</tspan><tspan x="2599" dy="14">"linen"</tspan></text></g>
<g id="n_german_leinen"><ellipse class="b" cx="2599" cy="3902" rx="71" ry="35.8"/><text x="2599" y="3893">German<tspan x="2599" dy="14">Leinen</tspan><tspan x="2599" dy="14">"canvas, cloth"</tspan></text></g>
<g id="n_malay_lin"><ellipse class="c" cx="2899.3" cy="3425.3" rx="84" ry="35.4"/><text x="2899.3" y="3416.3">Malay<tspan x="2899.3" dy="14">lin</tspan><tspan x="2899.3" dy="14">"line, band, route"</tspan></text></g>
<g id="n_dutch_lint"><ellipse class="b" cx="2898.3" cy="3514" rx="91.7" ry="35"/><text x="2898.3" y="3505">Dutch<tspan x="2898.3" dy="14">lint</tspan><tspan x="2898.3" dy="14">"ribbon, cloth band"</tspan></text></g>
</svg>
